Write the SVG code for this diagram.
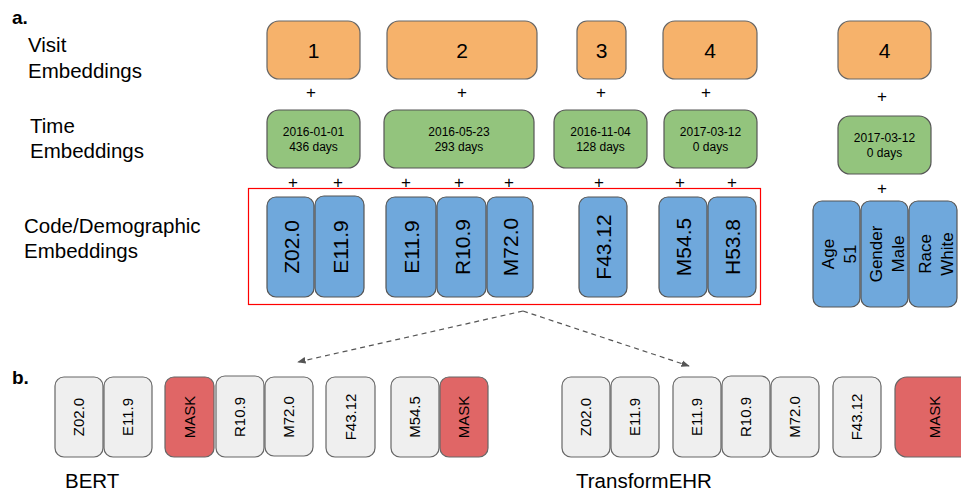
<svg xmlns="http://www.w3.org/2000/svg" width="961" height="492" viewBox="0 0 961 492">
<defs>
<style>
text{font-family:"Liberation Sans",Arial,sans-serif;fill:#000}
.lbl{font-size:20.5px}
.sec{font-size:19px;font-weight:bold}
.visit{fill:#f6b26b;stroke:#666;stroke-width:1.2}
.time{fill:#93c47d;stroke:#555;stroke-width:1.2}
.code{fill:#6fa8dc;stroke:#555;stroke-width:1.2}
.gray{fill:#efefef;stroke:#666;stroke-width:1.2}
.mask{fill:#e06666;stroke:#666;stroke-width:1.2}
.num{font-size:21px;text-anchor:middle}
.tt{font-size:12px;text-anchor:middle}
.ct{font-size:21px;text-anchor:middle}
.dt{font-size:17px;text-anchor:middle}
.bt{font-size:15px;text-anchor:middle}
.plus{font-size:17px;text-anchor:middle}
.conn{stroke:#555;stroke-width:1.2;fill:none;stroke-dasharray:5 4}
</style>
<marker id="ah" viewBox="0 0 10 10" refX="9" refY="5" markerWidth="7" markerHeight="7" orient="auto">
<path d="M0,1 L10,5 L0,9 z" fill="#555"/>
</marker>
</defs>
<rect width="961" height="492" fill="#fff"/>

<g id="labels">
<text class="sec" x="12" y="24">a.</text>
<text class="lbl" x="28" y="52">Visit</text>
<text class="lbl" x="28" y="78">Embeddings</text>
<text class="lbl" x="30" y="133">Time</text>
<text class="lbl" x="30" y="158">Embeddings</text>
<text class="lbl" x="24" y="233">Code/Demographic</text>
<text class="lbl" x="24" y="258">Embeddings</text>
<text class="sec" x="12" y="384">b.</text>
<text class="lbl" x="65" y="488">BERT</text>
<text class="lbl" x="576" y="488">TransformEHR</text>
</g>

<g id="visit1"><rect class="visit" x="267" y="21" width="93" height="58" rx="12"/><text class="num" x="313.5" y="58">1</text></g>
<g id="visit2"><rect class="visit" x="387" y="21" width="150" height="58" rx="12"/><text class="num" x="462" y="58">2</text></g>
<g id="visit3"><rect class="visit" x="577" y="21" width="49" height="58" rx="10"/><text class="num" x="601.5" y="58">3</text></g>
<g id="visit4"><rect class="visit" x="663" y="21" width="94" height="58" rx="12"/><text class="num" x="710" y="58">4</text></g>
<g id="visit4b"><rect class="visit" x="838" y="21" width="93" height="58" rx="12"/><text class="num" x="884.5" y="58">4</text></g>

<g id="plus-row1">
<text class="plus" x="311" y="98">+</text>
<text class="plus" x="462" y="98">+</text>
<text class="plus" x="601" y="98">+</text>
<text class="plus" x="706" y="98">+</text>
<text class="plus" x="882" y="102">+</text>
</g>

<g id="time1"><rect class="time" x="267" y="110" width="93" height="58" rx="12" stroke="#222"/><text class="tt" x="313.5" y="136">2016-01-01</text><text class="tt" x="313.5" y="151">436 days</text></g>
<g id="time2"><rect class="time" x="384" y="110" width="150" height="58" rx="12"/><text class="tt" x="459" y="136">2016-05-23</text><text class="tt" x="459" y="151">293 days</text></g>
<g id="time3"><rect class="time" x="554" y="110" width="93" height="58" rx="12"/><text class="tt" x="600.5" y="136">2016-11-04</text><text class="tt" x="600.5" y="151">128 days</text></g>
<g id="time4"><rect class="time" x="664" y="110" width="93" height="58" rx="12"/><text class="tt" x="710.5" y="136">2017-03-12</text><text class="tt" x="710.5" y="151">0 days</text></g>
<g id="time4b"><rect class="time" x="838" y="116" width="93" height="58" rx="12"/><text class="tt" x="884.5" y="142">2017-03-12</text><text class="tt" x="884.5" y="157">0 days</text></g>

<g id="plus-row2">
<text class="plus" x="293" y="188">+</text>
<text class="plus" x="338" y="188">+</text>
<text class="plus" x="406" y="188">+</text>
<text class="plus" x="459" y="188">+</text>
<text class="plus" x="509" y="188">+</text>
<text class="plus" x="599" y="188">+</text>
<text class="plus" x="680" y="188">+</text>
<text class="plus" x="732" y="188">+</text>
<text class="plus" x="882" y="194">+</text>
</g>

<g id="highlight"><rect x="248.5" y="188.5" width="512" height="116" fill="none" stroke="#f00" stroke-width="1.2"/></g>

<g id="c-Z02.0"><rect class="code" x="267" y="197" width="47" height="100" rx="9" stroke="#111"/><text class="ct" transform="translate(290.5,247) rotate(-90)" dy="8">Z02.0</text></g>
<g id="c-E11.9a"><rect class="code" x="315" y="196" width="49" height="101" rx="9"/><text class="ct" transform="translate(339.5,247) rotate(-90)" dy="8">E11.9</text></g>
<g id="c-E11.9b"><rect class="code" x="386" y="197" width="50" height="100" rx="9"/><text class="ct" transform="translate(411,247) rotate(-90)" dy="8">E11.9</text></g>
<g id="c-R10.9"><rect class="code" x="437" y="197" width="49" height="100" rx="9"/><text class="ct" transform="translate(461.5,247) rotate(-90)" dy="8">R10.9</text></g>
<g id="c-M72.0"><rect class="code" x="487" y="197" width="46" height="100" rx="9"/><text class="ct" transform="translate(510,247) rotate(-90)" dy="8">M72.0</text></g>
<g id="c-F43.12"><rect class="code" x="579" y="197" width="48" height="100" rx="9"/><text class="ct" transform="translate(603,247) rotate(-90)" dy="8">F43.12</text></g>
<g id="c-M54.5"><rect class="code" x="659" y="197" width="48" height="100" rx="9"/><text class="ct" transform="translate(683,247) rotate(-90)" dy="8">M54.5</text></g>
<g id="c-H53.8"><rect class="code" x="708" y="197" width="48" height="100" rx="9"/><text class="ct" transform="translate(732,247) rotate(-90)" dy="8">H53.8</text></g>

<g id="d-age"><rect class="code" x="813" y="201" width="47" height="106" rx="9"/><text class="dt" transform="translate(836.5,254) rotate(-90)"><tspan x="0" dy="-2.5">Age</tspan><tspan x="0" dy="22">51</tspan></text></g>
<g id="d-gender"><rect class="code" x="861" y="201" width="47" height="106" rx="9"/><text class="dt" transform="translate(884.5,254) rotate(-90)"><tspan x="0" dy="-2.5">Gender</tspan><tspan x="0" dy="22">Male</tspan></text></g>
<g id="d-race"><rect class="code" x="909" y="201" width="48" height="106" rx="9"/><text class="dt" transform="translate(933,254) rotate(-90)"><tspan x="0" dy="-2.5">Race</tspan><tspan x="0" dy="22">White</tspan></text></g>

<g id="connectors">
<path class="conn" d="M523,311 L298,362" marker-end="url(#ah)"/>
<path class="conn" d="M523,311 L689,366" marker-end="url(#ah)"/>
</g>

<g id="bert-Z02.0"><rect class="gray" x="55" y="377" width="48" height="80" rx="9" stroke="#222"/><text class="bt" transform="translate(79,417) rotate(-90)" dy="5">Z02.0</text></g>
<g id="bert-E11.9"><rect class="gray" x="104" y="377" width="48" height="80" rx="9"/><text class="bt" transform="translate(128,417) rotate(-90)" dy="5">E11.9</text></g>
<g id="bert-MASK1"><rect class="mask" x="165" y="377" width="49" height="80" rx="9"/><text class="bt" transform="translate(189.5,417) rotate(-90)" dy="5">MASK</text></g>
<g id="bert-R10.9"><rect class="gray" x="216" y="376" width="48" height="81" rx="9"/><text class="bt" transform="translate(240,417) rotate(-90)" dy="5">R10.9</text></g>
<g id="bert-M72.0"><rect class="gray" x="265" y="377" width="48" height="79" rx="9"/><text class="bt" transform="translate(289,417) rotate(-90)" dy="5">M72.0</text></g>
<g id="bert-F43.12"><rect class="gray" x="326" y="377" width="49" height="80" rx="9"/><text class="bt" transform="translate(350.5,417) rotate(-90)" dy="5">F43.12</text></g>
<g id="bert-M54.5"><rect class="gray" x="391" y="377" width="48" height="80" rx="9"/><text class="bt" transform="translate(415,417) rotate(-90)" dy="5">M54.5</text></g>
<g id="bert-MASK2"><rect class="mask" x="440" y="377" width="48" height="80" rx="9"/><text class="bt" transform="translate(464,417) rotate(-90)" dy="5">MASK</text></g>

<g id="tehr-Z02.0"><rect class="gray" x="562" y="377" width="48" height="80" rx="9"/><text class="bt" transform="translate(586,417) rotate(-90)" dy="5">Z02.0</text></g>
<g id="tehr-E11.9a"><rect class="gray" x="611" y="377" width="48" height="80" rx="9"/><text class="bt" transform="translate(635,417) rotate(-90)" dy="5">E11.9</text></g>
<g id="tehr-E11.9b"><rect class="gray" x="673" y="377" width="48" height="80" rx="9"/><text class="bt" transform="translate(697,417) rotate(-90)" dy="5">E11.9</text></g>
<g id="tehr-R10.9"><rect class="gray" x="722" y="376" width="48" height="81" rx="9"/><text class="bt" transform="translate(746,417) rotate(-90)" dy="5">R10.9</text></g>
<g id="tehr-M72.0"><rect class="gray" x="771" y="377" width="48" height="80" rx="9"/><text class="bt" transform="translate(795,417) rotate(-90)" dy="5">M72.0</text></g>
<g id="tehr-F43.12"><rect class="gray" x="833" y="377" width="48" height="80" rx="9"/><text class="bt" transform="translate(857,417) rotate(-90)" dy="5">F43.12</text></g>
<g id="tehr-MASK"><rect class="mask" x="895" y="377" width="80" height="80" rx="12"/><text class="bt" transform="translate(935,417) rotate(-90)" dy="5">MASK</text></g>
</svg>
